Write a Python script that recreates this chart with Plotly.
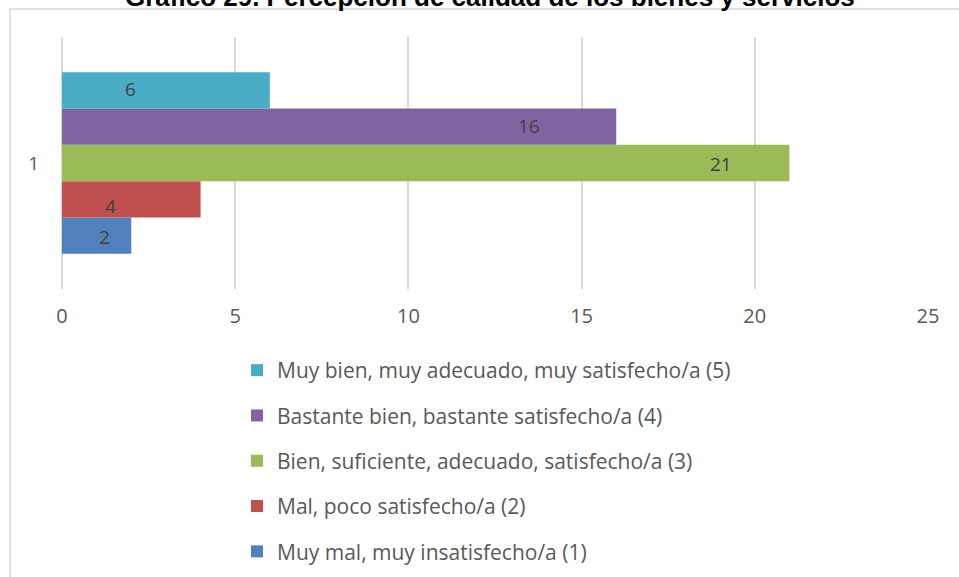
import plotly.graph_objects as go

categories = ["1"]
series_names = [
    "Muy mal, muy insatisfecho/a (1)",
    "Mal, poco satisfecho/a (2)",
    "Bien, suficiente, adecuado, satisfecho/a (3)",
    "Bastante bien, bastante satisfecho/a (4)",
    "Muy bien, muy adecuado, muy satisfecho/a (5)",
]
series_values = [2, 4, 21, 16, 6]
series_colors = ["#4f81bd", "#c0504d", "#9bbb59", "#8064a2", "#4bacc6"]
x_ticks = [0, 5, 10, 15, 20, 25]
title_text = "Gráfico 29. Percepción de calidad de los bienes y servicios"

# label pixel offsets (style) relative to bar end, and vertical nudges
label_xshift = [-27, -90, -68, -87, -139]
label_yshift = [-1, -7, -1, 1, 1]

W, H = 959, 577
L, R, T, B = 62, 31, 37, 288
pw, ph = W - L - R, H - T - B
FONT = "Open Sans, Lato, sans-serif"

fig = go.Figure()
n = len(series_values)
for i, (name, val, col) in enumerate(zip(series_names, series_values, series_colors)):
    fig.add_trace(go.Bar(
        y=categories, x=[val], name=name, orientation="h",
        marker=dict(color=col, line=dict(width=0)),
        legendgroup="g%d" % i, legendrank=n - i, hoverinfo="x+name",
    ))

bargap = 0.28
band = 1 - bargap
for i, val in enumerate(series_values):
    ypos = -band / 2 + band / n * (i + 0.5)
    fig.add_annotation(
        x=val, y=ypos, xref="x", yref="y", text=str(val), showarrow=False,
        xanchor="center", yanchor="middle",
        xshift=label_xshift[i], yshift=label_yshift[i],
        font=dict(family=FONT, size=19, color="#404040"),
    )

# title (partly cut off at the top of the page, as in the reference)
fig.add_annotation(
    text="<b>" + title_text + "</b>", xref="paper", yref="paper",
    x=(490 - L) / pw, y=(H - B + 3) / ph, xanchor="center", yanchor="middle",
    showarrow=False,
    font=dict(family="Liberation Sans, Arial, sans-serif", size=26, color="#000000"),
)

# chart frame
fig.add_shape(type="rect", xref="paper", yref="paper",
              x0=(10 - L) / pw, x1=(W + 20 - L) / pw,
              y0=-3, y1=(H - B - 9) / ph,
              line=dict(color="#d9d9d9", width=1.5), fillcolor="rgba(0,0,0,0)", layer="below")

fig.update_layout(
    width=W, height=H,
    margin=dict(l=L, r=R, t=T, b=B, pad=0, autoexpand=False),
    paper_bgcolor="white", plot_bgcolor="white",
    barmode="group", bargap=bargap, bargroupgap=0,
    xaxis=dict(range=[0, 25], tickvals=x_ticks, showgrid=True, gridcolor="#d9d9d9", gridwidth=1.5,
               zeroline=True, zerolinecolor="#d9d9d9", zerolinewidth=1.5,
               showline=False, ticks="", ticklabelstandoff=13, automargin=False,
               tickfont=dict(family=FONT, size=20, color="#595959")),
    yaxis=dict(showgrid=False, zeroline=False, showline=False, ticks="",
               ticklabelstandoff=22, automargin=False,
               tickfont=dict(family=FONT, size=19, color="#595959")),
    legend=dict(orientation="v", traceorder="grouped", tracegroupgap=15,
                x=(237 - L) / pw, xanchor="left", y=(H - B - 350) / ph, yanchor="top",
                font=dict(family=FONT, size=21, color="#595959"),
                itemwidth=30, bgcolor="rgba(0,0,0,0)"),
    showlegend=True,
)

fig.write_html("out.html", config={"displayModeBar": False},
               post_script="document.body.style.margin='0';document.body.style.padding='0';")
